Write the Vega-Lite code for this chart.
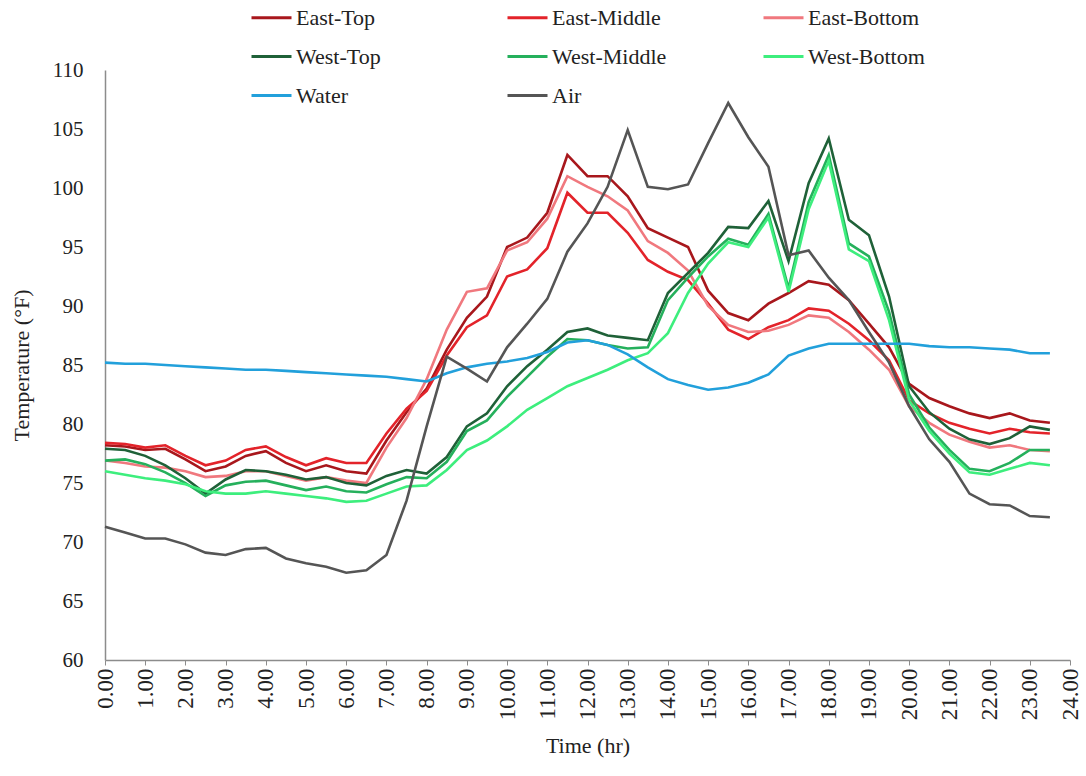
{
  "$schema": "https://vega.github.io/schema/vega-lite/v6.json",
  "width": 965,
  "height": 590,
  "autosize": "none",
  "padding": {"left": 105, "top": 70, "right": 16, "bottom": 116},
  "background": "white",
  "config": {
    "view": {"stroke": null},
    "font": "Liberation Serif",
    "axis": {"grid": false, "domainColor": "#8c8c8c", "tickColor": "#8c8c8c", "labelColor": "#222", "titleColor": "#222", "labelFont": "Liberation Serif", "titleFont": "Liberation Serif", "labelFontSize": 21, "titleFontSize": 22, "titleFontWeight": "normal", "domainWidth": 1.5}
  },
  "data": {"values": [
    {"t":0,"East-Top":78.2,"East-Middle":78.4,"East-Bottom":76.9,"West-Top":77.9,"West-Middle":76.9,"West-Bottom":76.0,"Water":85.2,"Air":71.3},
    {"t":0.5,"East-Top":78.1,"East-Middle":78.3,"East-Bottom":76.7,"West-Top":77.8,"West-Middle":77.0,"West-Bottom":75.7,"Water":85.1,"Air":70.8},
    {"t":1,"East-Top":77.8,"East-Middle":78.0,"East-Bottom":76.4,"West-Top":77.3,"West-Middle":76.6,"West-Bottom":75.4,"Water":85.1,"Air":70.3},
    {"t":1.5,"East-Top":77.9,"East-Middle":78.2,"East-Bottom":76.3,"West-Top":76.5,"West-Middle":75.9,"West-Bottom":75.2,"Water":85.0,"Air":70.3},
    {"t":2,"East-Top":77.0,"East-Middle":77.3,"East-Bottom":76.0,"West-Top":75.4,"West-Middle":75.0,"West-Bottom":74.9,"Water":84.9,"Air":69.8},
    {"t":2.5,"East-Top":76.0,"East-Middle":76.5,"East-Bottom":75.5,"West-Top":74.1,"West-Middle":73.9,"West-Bottom":74.3,"Water":84.8,"Air":69.1},
    {"t":3,"East-Top":76.4,"East-Middle":76.9,"East-Bottom":75.6,"West-Top":75.3,"West-Middle":74.8,"West-Bottom":74.1,"Water":84.7,"Air":68.9},
    {"t":3.5,"East-Top":77.3,"East-Middle":77.8,"East-Bottom":76.0,"West-Top":76.1,"West-Middle":75.1,"West-Bottom":74.1,"Water":84.6,"Air":69.4},
    {"t":4,"East-Top":77.7,"East-Middle":78.1,"East-Bottom":76.0,"West-Top":76.0,"West-Middle":75.2,"West-Bottom":74.3,"Water":84.6,"Air":69.5},
    {"t":4.5,"East-Top":76.7,"East-Middle":77.2,"East-Bottom":75.6,"West-Top":75.7,"West-Middle":74.8,"West-Bottom":74.1,"Water":84.5,"Air":68.6},
    {"t":5,"East-Top":76.0,"East-Middle":76.5,"East-Bottom":75.2,"West-Top":75.3,"West-Middle":74.4,"West-Bottom":73.9,"Water":84.4,"Air":68.2},
    {"t":5.5,"East-Top":76.5,"East-Middle":77.1,"East-Bottom":75.5,"West-Top":75.5,"West-Middle":74.7,"West-Bottom":73.7,"Water":84.3,"Air":67.9},
    {"t":6,"East-Top":76.0,"East-Middle":76.7,"East-Bottom":75.2,"West-Top":75.0,"West-Middle":74.3,"West-Bottom":73.4,"Water":84.2,"Air":67.4},
    {"t":6.5,"East-Top":75.8,"East-Middle":76.7,"East-Bottom":75.0,"West-Top":74.8,"West-Middle":74.2,"West-Bottom":73.5,"Water":84.1,"Air":67.6},
    {"t":7,"East-Top":78.6,"East-Middle":79.2,"East-Bottom":78.0,"West-Top":75.6,"West-Middle":74.9,"West-Bottom":74.1,"Water":84.0,"Air":68.9},
    {"t":7.5,"East-Top":81.0,"East-Middle":81.3,"East-Bottom":80.5,"West-Top":76.1,"West-Middle":75.5,"West-Bottom":74.7,"Water":83.8,"Air":73.5},
    {"t":8,"East-Top":83.0,"East-Middle":82.8,"East-Bottom":83.8,"West-Top":75.8,"West-Middle":75.4,"West-Bottom":74.8,"Water":83.6,"Air":79.8},
    {"t":8.5,"East-Top":86.3,"East-Middle":85.8,"East-Bottom":88.0,"West-Top":77.2,"West-Middle":76.8,"West-Bottom":76.1,"Water":84.3,"Air":85.7},
    {"t":9,"East-Top":89.0,"East-Middle":88.2,"East-Bottom":91.2,"West-Top":79.8,"West-Middle":79.4,"West-Bottom":77.8,"Water":84.8,"Air":84.7},
    {"t":9.5,"East-Top":90.8,"East-Middle":89.2,"East-Bottom":91.5,"West-Top":80.9,"West-Middle":80.3,"West-Bottom":78.6,"Water":85.1,"Air":83.6},
    {"t":10,"East-Top":95.0,"East-Middle":92.5,"East-Bottom":94.7,"West-Top":83.2,"West-Middle":82.3,"West-Bottom":79.8,"Water":85.3,"Air":86.5},
    {"t":10.5,"East-Top":95.8,"East-Middle":93.1,"East-Bottom":95.4,"West-Top":84.9,"West-Middle":84.0,"West-Bottom":81.2,"Water":85.6,"Air":88.5},
    {"t":11,"East-Top":97.9,"East-Middle":94.9,"East-Bottom":97.4,"West-Top":86.3,"West-Middle":85.7,"West-Bottom":82.2,"Water":86.1,"Air":90.6},
    {"t":11.5,"East-Top":102.8,"East-Middle":99.6,"East-Bottom":101.0,"West-Top":87.8,"West-Middle":87.2,"West-Bottom":83.2,"Water":86.9,"Air":94.6},
    {"t":12,"East-Top":101.0,"East-Middle":97.9,"East-Bottom":100.1,"West-Top":88.1,"West-Middle":87.1,"West-Bottom":83.9,"Water":87.1,"Air":97.0},
    {"t":12.5,"East-Top":101.0,"East-Middle":97.9,"East-Bottom":99.3,"West-Top":87.5,"West-Middle":86.7,"West-Bottom":84.6,"Water":86.7,"Air":100.1},
    {"t":13,"East-Top":99.3,"East-Middle":96.2,"East-Bottom":98.1,"West-Top":87.3,"West-Middle":86.4,"West-Bottom":85.4,"Water":85.9,"Air":104.9},
    {"t":13.5,"East-Top":96.6,"East-Middle":93.9,"East-Bottom":95.5,"West-Top":87.1,"West-Middle":86.5,"West-Bottom":86.0,"Water":84.8,"Air":100.1},
    {"t":14,"East-Top":95.8,"East-Middle":92.9,"East-Bottom":94.5,"West-Top":91.1,"West-Middle":90.5,"West-Bottom":87.7,"Water":83.8,"Air":99.9},
    {"t":14.5,"East-Top":95.0,"East-Middle":92.2,"East-Bottom":93.0,"West-Top":92.8,"West-Middle":92.4,"West-Bottom":91.1,"Water":83.3,"Air":100.3},
    {"t":15,"East-Top":91.3,"East-Middle":90.2,"East-Bottom":90.0,"West-Top":94.5,"West-Middle":94.2,"West-Bottom":93.6,"Water":82.9,"Air":103.8},
    {"t":15.5,"East-Top":89.4,"East-Middle":88.0,"East-Bottom":88.4,"West-Top":96.7,"West-Middle":95.7,"West-Bottom":95.4,"Water":83.1,"Air":107.2},
    {"t":16,"East-Top":88.8,"East-Middle":87.2,"East-Bottom":87.8,"West-Top":96.6,"West-Middle":95.2,"West-Bottom":95.0,"Water":83.5,"Air":104.3},
    {"t":16.5,"East-Top":90.2,"East-Middle":88.2,"East-Bottom":87.9,"West-Top":98.9,"West-Middle":97.8,"West-Bottom":97.5,"Water":84.2,"Air":101.8},
    {"t":17,"East-Top":91.1,"East-Middle":88.8,"East-Bottom":88.4,"West-Top":93.8,"West-Middle":91.5,"West-Bottom":91.2,"Water":85.8,"Air":94.3},
    {"t":17.5,"East-Top":92.1,"East-Middle":89.8,"East-Bottom":89.2,"West-Top":100.4,"West-Middle":98.8,"West-Bottom":98.2,"Water":86.4,"Air":94.7},
    {"t":18,"East-Top":91.8,"East-Middle":89.6,"East-Bottom":89.0,"West-Top":104.2,"West-Middle":102.8,"West-Bottom":102.3,"Water":86.8,"Air":92.4},
    {"t":18.5,"East-Top":90.5,"East-Middle":88.5,"East-Bottom":87.8,"West-Top":97.3,"West-Middle":95.3,"West-Bottom":94.8,"Water":86.8,"Air":90.5},
    {"t":19,"East-Top":88.5,"East-Middle":87.1,"East-Bottom":86.3,"West-Top":96.0,"West-Middle":94.2,"West-Bottom":93.8,"Water":86.8,"Air":87.8},
    {"t":19.5,"East-Top":86.5,"East-Middle":85.4,"East-Bottom":84.6,"West-Top":90.8,"West-Middle":89.5,"West-Bottom":88.8,"Water":86.8,"Air":85.2},
    {"t":20,"East-Top":83.4,"East-Middle":82.0,"East-Bottom":81.5,"West-Top":83.2,"West-Middle":82.5,"West-Bottom":82.0,"Water":86.8,"Air":81.5},
    {"t":20.5,"East-Top":82.2,"East-Middle":80.9,"East-Bottom":80.1,"West-Top":81.0,"West-Middle":79.7,"West-Bottom":79.4,"Water":86.6,"Air":78.7},
    {"t":21,"East-Top":81.5,"East-Middle":80.1,"East-Bottom":79.1,"West-Top":79.6,"West-Middle":77.8,"West-Bottom":77.5,"Water":86.5,"Air":76.8},
    {"t":21.5,"East-Top":80.9,"East-Middle":79.6,"East-Bottom":78.5,"West-Top":78.7,"West-Middle":76.2,"West-Bottom":75.9,"Water":86.5,"Air":74.1},
    {"t":22,"East-Top":80.5,"East-Middle":79.2,"East-Bottom":78.0,"West-Top":78.3,"West-Middle":76.0,"West-Bottom":75.7,"Water":86.4,"Air":73.2},
    {"t":22.5,"East-Top":80.9,"East-Middle":79.6,"East-Bottom":78.2,"West-Top":78.8,"West-Middle":76.7,"West-Bottom":76.2,"Water":86.3,"Air":73.1},
    {"t":23,"East-Top":80.3,"East-Middle":79.3,"East-Bottom":77.8,"West-Top":79.8,"West-Middle":77.8,"West-Bottom":76.7,"Water":86.0,"Air":72.2},
    {"t":23.5,"East-Top":80.1,"East-Middle":79.2,"East-Bottom":77.7,"West-Top":79.5,"West-Middle":77.8,"West-Bottom":76.5,"Water":86.0,"Air":72.1}
  ]},
  "transform": [
    {"fold": ["East-Top","East-Middle","East-Bottom","West-Top","West-Middle","West-Bottom","Water","Air"], "as": ["series","temp"]}
  ],
  "mark": {"type": "line", "strokeWidth": 2.6, "interpolate": "linear"},
  "encoding": {
    "x": {"field": "t", "type": "quantitative", "title": "Time (hr)",
      "scale": {"domain": [0, 24], "nice": false, "zero": false},
      "axis": {"values": [0,1,2,3,4,5,6,7,8,9,10,11,12,13,14,15,16,17,18,19,20,21,22,23,24], "format": ".2f", "labelAngle": -90, "labelAlign": "right", "labelBaseline": "middle", "labelFontSize": 23, "tickSize": 5, "labelPadding": 3, "titlePadding": 16, "labelFlush": false, "labelOverlap": false}},
    "y": {"field": "temp", "type": "quantitative", "title": "Temperature (°F)",
      "scale": {"domain": [60, 110], "nice": false, "zero": false},
      "axis": {"values": [60,65,70,75,80,85,90,95,100,105,110], "ticks": false, "labelPadding": 22, "titlePadding": 18, "labelFlush": false}},
    "color": {"field": "series", "type": "nominal",
      "scale": {"domain": ["East-Top","East-Middle","East-Bottom","West-Top","West-Middle","West-Bottom","Water","Air"],
                "range": ["#A8171C","#E3232A","#F0787E","#1F6138","#25B05C","#3DEE7D","#22A0DB","#555555"]},
      "sort": ["East-Top","East-Middle","East-Bottom","West-Top","West-Middle","West-Bottom","Water","Air"],
      "legend": {"title": null, "orient": "none", "legendX": 145, "legendY": -74, "columns": 3, "direction": "horizontal",
        "symbolType": "stroke", "symbolSize": 1600, "symbolStrokeWidth": 3, "labelFontSize": 22, "labelFont": "Liberation Serif", "labelColor": "#222",
        "labelOffset": 3, "columnPadding": 88, "rowPadding": 6, "gridAlign": "all", "labelLimit": 200, "padding": 0}}
  }
}
